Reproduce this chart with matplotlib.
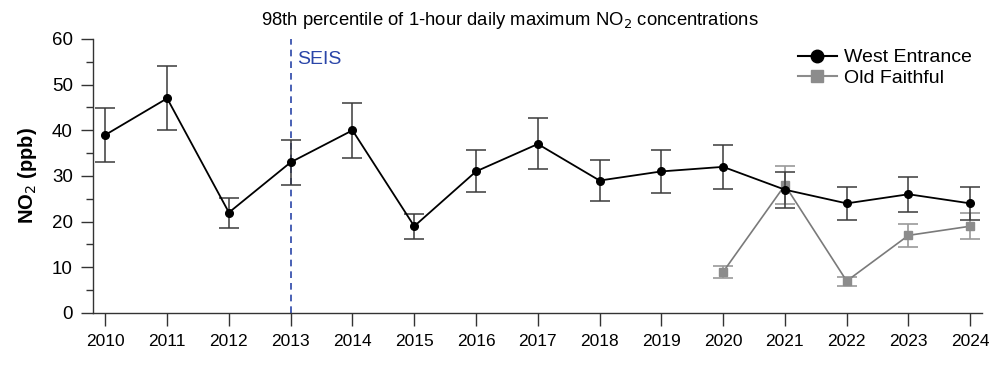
import matplotlib
matplotlib.use("Agg")
import matplotlib.pyplot as plt
from matplotlib.ticker import MultipleLocator
from matplotlib.lines import Line2D

plt.rcParams['font.family'] = ['Liberation Sans', 'DejaVu Sans']

# Data
years = [2010, 2011, 2012, 2013, 2014, 2015, 2016, 2017, 2018, 2019, 2020, 2021, 2022, 2023, 2024]
west = [39, 47, 22, 33, 40, 19, 31, 37, 29, 31, 32, 27, 24, 26, 24]
west_lo = [33.0, 40.0, 18.7, 28.0, 34.0, 16.3, 26.4, 31.5, 24.5, 26.3, 27.1, 22.9, 20.4, 22.1, 20.4]
west_hi = [44.8, 54.0, 25.2, 37.9, 45.9, 21.7, 35.7, 42.6, 33.4, 35.7, 36.8, 30.9, 27.5, 29.8, 27.5]

of_years = [2020, 2021, 2022, 2023, 2024]
old_faithful = [9, 28, 7, 17, 19]
of_lo = [7.7, 23.9, 6.0, 14.5, 16.2]
of_hi = [10.3, 32.2, 7.9, 19.5, 21.8]

seis_year = 2013

fig = plt.figure(figsize=(10, 3.65), dpi=100)
ax = fig.add_axes([0.093, 0.1425, 0.889, 0.7507])

# dashed SEIS marker
ax.axvline(seis_year, color='#2a45a8', linestyle=(0, (4, 3)), linewidth=1.2, zorder=1)
ax.text(seis_year + 0.1, 55.5, 'SEIS', color='#2a45a8', fontsize=14, ha='left', va='center')

we_err = [[v - l for v, l in zip(west, west_lo)], [h - v for v, h in zip(west, west_hi)]]
of_err = [[v - l for v, l in zip(old_faithful, of_lo)], [h - v for v, h in zip(old_faithful, of_hi)]]

ax.errorbar(of_years, old_faithful, yerr=of_err, color='#7a7a7a', marker='s', markersize=5.5,
            markerfacecolor='#8c8c8c', markeredgecolor='#8c8c8c', ecolor='#9a9a9a',
            elinewidth=1.2, capsize=7, capthick=1.2, linewidth=1.2, zorder=2)
ax.errorbar(years, west, yerr=we_err, color='black', marker='o', markersize=5.5,
            ecolor='#3a3a3a', elinewidth=1.1, capsize=7, capthick=1.1, linewidth=1.3, zorder=3)

ax.set_xlim(2009.8, 2024.19)
ax.set_ylim(0, 60)
ax.set_xticks(years)
ax.yaxis.set_major_locator(MultipleLocator(10))
ax.yaxis.set_minor_locator(MultipleLocator(5))
ax.tick_params(axis='both', length=9, width=1, color='#333333')
ax.tick_params(axis='x', labelsize=12.5, pad=6)
ax.tick_params(axis='y', labelsize=13.5, pad=5.5)
ax.tick_params(axis='y', which='minor', length=5, width=1, color='#333333')

for side in ['top', 'right']:
    ax.spines[side].set_visible(False)
for side in ['left', 'bottom']:
    ax.spines[side].set_color('#333333')
    ax.spines[side].set_linewidth(1)

ax.set_ylabel('NO$_2$ (ppb)', fontsize=14.5, fontweight='bold', labelpad=9)
fig.text(0.51, 0.945, '98th percentile of 1-hour daily maximum NO$_2$ concentrations',
         ha='center', va='center', fontsize=13.3)

handles = [
    Line2D([], [], color='black', marker='o', markersize=9, linewidth=1.5),
    Line2D([], [], color='#8c8c8c', marker='s', markersize=8, linewidth=1.5),
]
ax.legend(handles, ['West Entrance', 'Old Faithful'], loc='upper right', bbox_to_anchor=(1.0, 1.0),
          frameon=False, fontsize=14, handlelength=2.0, handletextpad=0.4, labelspacing=0.15,
          borderaxespad=0.1)

fig.savefig('out.png', dpi=100)
